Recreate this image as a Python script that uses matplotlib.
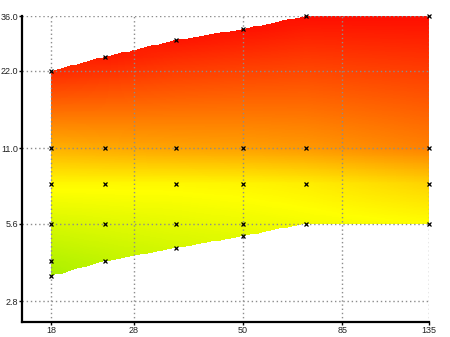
import numpy as np
import matplotlib
matplotlib.use("Agg")
import matplotlib.pyplot as plt
from matplotlib.colors import LinearSegmentedColormap
from matplotlib.ticker import FixedLocator, FixedFormatter, NullLocator

# ---- data -------------------------------------------------------------
focal = [18, 24, 35, 50, 70, 135]
min_aperture = [3.5, 4.0, 4.5, 5.0, 5.6, 5.6]
max_aperture = [22, 25, 29, 32, 36, 36]

# sampled apertures for each focal length and their colour value (0 = green-yellow, 1 = red)
ap_18 = [3.5, 4.0, 5.6, 8, 11, 22]
val_18 = [0.0, 0.04, 0.14, 0.27, 0.48, 0.88]
ap_24 = [4.0, 5.6, 8, 11, 25]
val_24 = [0.07, 0.16, 0.27, 0.50, 0.92]
ap_35 = [4.5, 5.6, 8, 11, 29]
val_35 = [0.13, 0.18, 0.27, 0.52, 0.94]
ap_50 = [5.0, 5.6, 8, 11, 32]
val_50 = [0.17, 0.20, 0.28, 0.53, 0.95]
ap_70 = [5.6, 8, 11, 36]
val_70 = [0.22, 0.30, 0.55, 0.96]
ap_135 = [5.6, 8, 11, 36]
val_135 = [0.25, 0.38, 0.62, 0.96]

x_ticks = [18, 28, 50, 85, 135]
x_labels = ["18", "28", "50", "85", "135"]
y_ticks = [2.8, 5.6, 11.0, 22.0, 36.0]
y_labels = ["2.8", "5.6", "11.0", "22.0", "36.0"]

cols_ap = [ap_18, ap_24, ap_35, ap_50, ap_70, ap_135]
cols_val = [val_18, val_24, val_35, val_50, val_70, val_135]

# ---- figure -----------------------------------------------------------
fig = plt.figure(figsize=(4.5, 3.37), dpi=100)
ax = fig.add_axes([22 / 450, 15 / 337, 407 / 450, 306 / 337])
ax.set_xscale("log")
ax.set_yscale("log")

cmap = LinearSegmentedColormap.from_list(
    "gyr", [(0.0, (0.66, 0.94, 0.0)), (0.25, (1.0, 1.0, 0.0)), (1.0, (1.0, 0.0, 0.0))])

# interpolation grid in log space
nx, ny = 260, 300
lx_edges = np.linspace(np.log(focal[0]), np.log(focal[-1]), nx + 1)
ly_edges = np.linspace(np.log(min(min_aperture)), np.log(max(max_aperture)), ny + 1)
lxc = 0.5 * (lx_edges[:-1] + lx_edges[1:])
lyc = 0.5 * (ly_edges[:-1] + ly_edges[1:])

lf = np.log(focal)
colz = np.array([np.interp(lyc, np.log(a), v) for a, v in zip(cols_ap, cols_val)])  # (ncol, ny)
Z = np.array([np.interp(lxc, lf, colz[:, j]) for j in range(ny)])  # (ny, nx)

lo = np.interp(lxc, lf, np.log(min_aperture))
hi = np.interp(lxc, lf, np.log(max_aperture))
inside = (lyc[:, None] >= lo[None, :]) & (lyc[:, None] <= hi[None, :])
Zm = np.ma.masked_where(~inside, Z)

ax.pcolormesh(np.exp(lx_edges), np.exp(ly_edges), Zm, cmap=cmap, vmin=0, vmax=1,
              shading="flat", antialiased=False, edgecolors="none", zorder=1)

# markers
for f, a in zip(focal, cols_ap):
    ax.plot([f] * len(a), a, linestyle="none", marker="x", color="black",
            markersize=3.0, markeredgewidth=0.9, zorder=3, clip_on=False)

ax.set_xlim(15.42, 135)
ax.set_ylim(2.32, 36)

ax.xaxis.set_major_locator(FixedLocator(x_ticks))
ax.xaxis.set_major_formatter(FixedFormatter(x_labels))
ax.xaxis.set_minor_locator(NullLocator())
ax.yaxis.set_major_locator(FixedLocator(y_ticks))
ax.yaxis.set_major_formatter(FixedFormatter(y_labels))
ax.yaxis.set_minor_locator(NullLocator())

ax.grid(True, which="major", color="#8c8c8c", linestyle=(0, (1, 2)), linewidth=1.0, zorder=2)

for s in ["top", "right"]:
    ax.spines[s].set_visible(False)
for s in ["left", "bottom"]:
    ax.spines[s].set_linewidth(1.6)
    ax.spines[s].set_color("black")

ax.tick_params(axis="both", direction="out", length=2.0, width=1, pad=1.0,
               labelsize=6.5, labelcolor="#222222")
for lab in ax.get_xticklabels() + ax.get_yticklabels():
    lab.set_fontfamily("Liberation Sans")

fig.savefig("out.png", dpi=100)
